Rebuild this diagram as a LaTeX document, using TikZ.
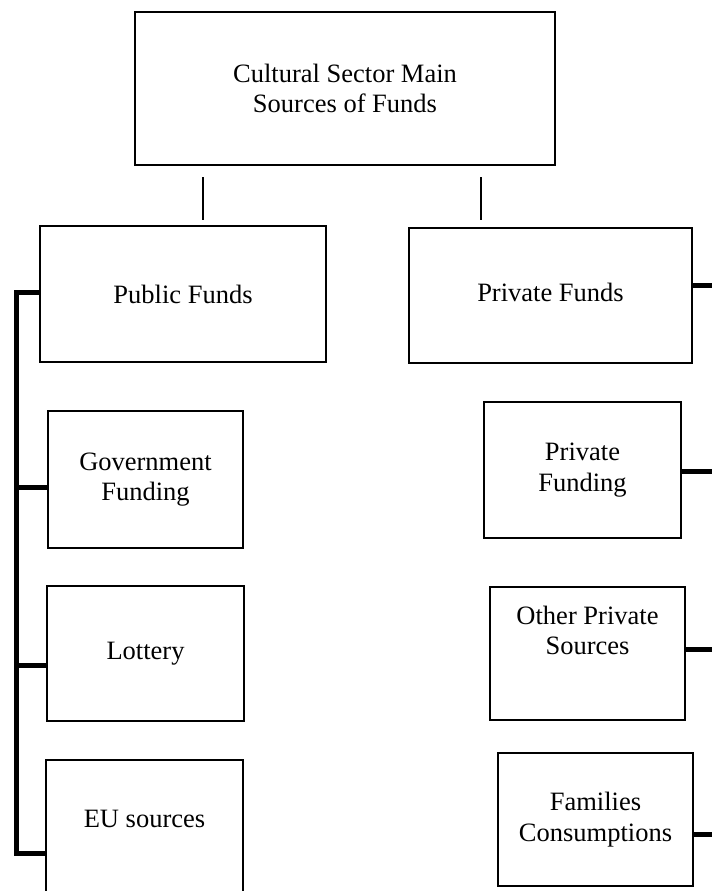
\documentclass[tikz,border=0pt]{standalone}
\usepackage{fontspec}
\setmainfont{Liberation Serif}
\tikzset{
  fundbox/.style={draw, line width=2pt, align=center, inner sep=0pt,
    font=\fontsize{26.5}{30.5}\selectfont},
  stem/.style={line width=1.3pt},
  bracket/.style={line width=5pt, line join=miter}
}
\begin{document}
\begin{tikzpicture}[x=1pt, y=-1pt]
      \useasboundingbox (0,0) rectangle (712,891);
      % boxes
      \node[fundbox, minimum width=420, minimum height=153] (main) at (345,88.5)
        {Cultural Sector Main\\Sources of Funds};
      \node[fundbox, minimum width=286, minimum height=136] (public) at (183,294) {Public Funds};
      \node[fundbox, minimum width=283, minimum height=135] (private) at (550.5,295.5)
        {Private Funds\vphantom{y}};
      \node[fundbox, minimum width=195, minimum height=137] (gov) at (145.5,479.5)
        {Government\\Funding};
      \node[fundbox, minimum width=197, minimum height=135] (lottery) at (145.5,653.5) {Lottery};
      \node[fundbox, minimum width=197, minimum height=135, text depth=18pt] (eu) at (144.5,827.5)
        {EU sources};
      \node[fundbox, minimum width=197, minimum height=136] (privfund) at (582.5,470)
        {Private\\Funding};
      \node[fundbox, minimum width=195, minimum height=133, text depth=46pt] (other) at (587.5,653.5)
        {Other Private\\Sources};
      \node[fundbox, minimum width=195, minimum height=133] (families) at (595.5,819.5)
        {Families\\Consumptions};
      % stems below the main box
      \coordinate (s1a) at (203,177);
      \coordinate (s1b) at (203,220);
      \coordinate (s2a) at (481,177);
      \coordinate (s2b) at (481,220);
      \draw[stem] (s1a) -- (s1b);
      \draw[stem] (s2a) -- (s2b);
      % left bracket
      \coordinate (ltop) at (16,292);
      \coordinate (lgov) at (16,487);
      \coordinate (llot) at (16,665);
      \coordinate (lbot) at (16,853);
      \draw[bracket] (public.west |- ltop) -- (ltop) -- (lbot) -- (eu.west |- lbot);
      \draw[bracket] (lgov) -- (gov.west |- lgov);
      \draw[bracket] (llot) -- (lottery.west |- llot);
      % right stubs
      \coordinate (r1) at (712,285);
      \coordinate (r2) at (712,471);
      \coordinate (r3) at (712,649);
      \coordinate (r4) at (712,834);
      \draw[bracket] (private.east |- r1) -- (r1);
      \draw[bracket] (privfund.east |- r2) -- (r2);
      \draw[bracket] (other.east |- r3) -- (r3);
      \draw[bracket] (families.east |- r4) -- (r4);
    \end{tikzpicture}
\end{document}
